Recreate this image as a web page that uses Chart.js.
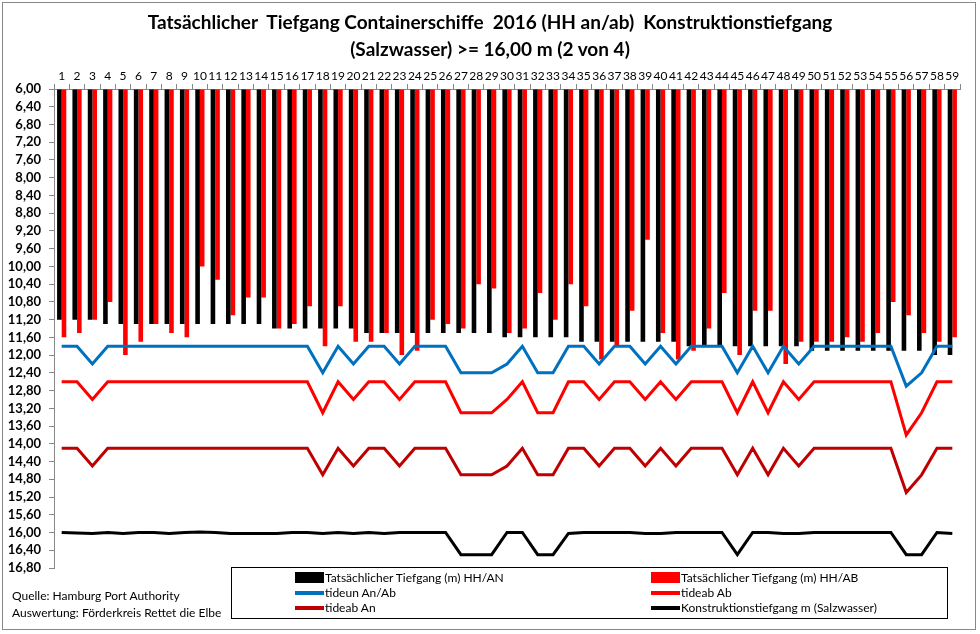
<!DOCTYPE html>
<html>
<head>
<meta charset="utf-8">
<script src="https://cdn.jsdelivr.net/npm/chart.js@4/dist/chart.umd.min.js"></script>
<style>
body { margin: 0; background: #fff; }
#wrap { position: relative; width: 980px; height: 634px; font-family: Lato, "Noto Sans", sans-serif; }
#frame { position: absolute; left: 2px; top: 2px; width: 974px; height: 628px; border: 1px solid #888; box-sizing: border-box; }
#title { position: absolute; left: 0; top: 8px; width: 980px; text-align: center; font-weight: bold; font-size: 19px; line-height: 27px; white-space: pre; }
#legend { position: absolute; left: 231px; top: 567px; width: 717px; height: 52px; border: 1px solid #000; box-sizing: border-box; background: #fff; font-size: 12px; }
.item { position: absolute; height: 15px; line-height: 15px; white-space: pre; }
.sym { position: absolute; left: 0; width: 29px; }
.box { top: 2px; height: 11px; }
.ln { top: 6px; height: 4px; }
.lbl { position: absolute; left: 30px; top: 0; }
#src { position: absolute; left: 12px; top: 587px; font-size: 12px; line-height: 17px; }
canvas { position: absolute; left: 0; top: 0; }
</style>
</head>
<body>
<div id="wrap">
  <canvas id="graphic" width="980" height="634"></canvas>
  <div id="frame"></div>
  <div id="title">Tatsächlicher  Tiefgang Containerschiffe  2016 (HH an/ab)  Konstruktionstiefgang
(Salzwasser) &gt;= 16,00 m (2 von 4)</div>
  <div id="legend"></div>
  <div id="src">Quelle: Hamburg Port Authority<br>Auswertung: Förderkreis Rettet die Elbe</div>
</div>
<script>
var labels = [];
for (var i = 1; i <= 59; i++) labels.push(String(i));

var yTicks = [6.0, 6.4, 6.8, 7.2, 7.6, 8.0, 8.4, 8.8, 9.2, 9.6, 10.0, 10.4, 10.8, 11.2, 11.6, 12.0,
    12.4, 12.8, 13.2, 13.6, 14.0, 14.4, 14.8, 15.2, 15.6, 16.0, 16.4, 16.8];

// Tatsächlicher Tiefgang (m) HH/AN
var tiefgangAn = [11.2, 11.2, 11.2, 11.3, 11.3, 11.3, 11.3, 11.3, 11.3, 11.3,
    11.3, 11.3, 11.3, 11.3, 11.4, 11.4, 11.4, 11.4, 11.4, 11.4,
    11.5, 11.5, 11.5, 11.5, 11.5, 11.5, 11.5, 11.5, 11.5, 11.6,
    11.6, 11.6, 11.6, 11.6, 11.7, 11.7, 11.7, 11.7, 11.7, 11.7,
    11.7, 11.8, 11.8, 11.8, 11.8, 11.8, 11.8, 11.8, 11.8, 11.9,
    11.9, 11.9, 11.9, 11.9, 11.9, 11.9, 11.9, 12.0, 12.0];

// Tatsächlicher Tiefgang (m) HH/AB
var tiefgangAb = [11.6, 11.5, 11.2, 10.8, 12.0, 11.7, 11.3, 11.5, 11.6, 10.0,
    10.3, 11.1, 10.7, 10.7, 11.4, 11.3, 10.9, 11.8, 10.9, 11.7,
    11.7, 11.5, 12.0, 11.9, 11.2, 11.3, 11.4, 10.4, 10.5, 11.5,
    11.4, 10.6, 11.2, 10.4, 10.9, 12.1, 11.8, 11.0, 9.4, 11.5,
    12.1, 11.9, 11.4, 10.6, 12.0, 11.0, 11.0, 12.2, 11.7, 11.7,
    11.7, 11.6, 11.7, 11.5, 10.8, 11.1, 11.5, 11.7, 11.6];

var tideunAnAb = [11.8, 11.8, 12.2, 11.8, 11.8, 11.8, 11.8, 11.8, 11.8, 11.8,
    11.8, 11.8, 11.8, 11.8, 11.8, 11.8, 11.8, 12.4, 11.8, 12.2,
    11.8, 11.8, 12.2, 11.8, 11.8, 11.8, 12.4, 12.4, 12.4, 12.2,
    11.8, 12.4, 12.4, 11.8, 11.8, 12.2, 11.8, 11.8, 12.2, 11.8,
    12.2, 11.8, 11.8, 11.8, 12.4, 11.8, 12.4, 11.8, 12.2, 11.8,
    11.8, 11.8, 11.8, 11.8, 11.8, 12.7, 12.4, 11.8, 11.8];

var tideabAb = [12.6, 12.6, 13.0, 12.6, 12.6, 12.6, 12.6, 12.6, 12.6, 12.6,
    12.6, 12.6, 12.6, 12.6, 12.6, 12.6, 12.6, 13.3, 12.6, 13.0,
    12.6, 12.6, 13.0, 12.6, 12.6, 12.6, 13.3, 13.3, 13.3, 13.0,
    12.6, 13.3, 13.3, 12.6, 12.6, 13.0, 12.6, 12.6, 13.0, 12.6,
    13.0, 12.6, 12.6, 12.6, 13.3, 12.6, 13.3, 12.6, 13.0, 12.6,
    12.6, 12.6, 12.6, 12.6, 12.6, 13.8, 13.3, 12.6, 12.6];

var tideabAn = [14.1, 14.1, 14.5, 14.1, 14.1, 14.1, 14.1, 14.1, 14.1, 14.1,
    14.1, 14.1, 14.1, 14.1, 14.1, 14.1, 14.1, 14.7, 14.1, 14.5,
    14.1, 14.1, 14.5, 14.1, 14.1, 14.1, 14.7, 14.7, 14.7, 14.5,
    14.1, 14.7, 14.7, 14.1, 14.1, 14.5, 14.1, 14.1, 14.5, 14.1,
    14.5, 14.1, 14.1, 14.1, 14.7, 14.1, 14.7, 14.1, 14.5, 14.1,
    14.1, 14.1, 14.1, 14.1, 14.1, 15.1, 14.7, 14.1, 14.1];

var konstruktion = [16.00, 16.01, 16.02, 16.00, 16.02, 16.00, 16.00, 16.02, 16.00, 15.99,
    16.00, 16.02, 16.02, 16.02, 16.02, 16.00, 16.00, 16.02, 16.00, 16.02,
    16.00, 16.02, 16.00, 16.00, 16.00, 16.00, 16.50, 16.50, 16.50, 16.00,
    16.00, 16.50, 16.50, 16.02, 16.00, 16.00, 16.00, 16.00, 16.02, 16.02,
    16.00, 16.00, 16.00, 16.00, 16.50, 16.00, 16.00, 16.02, 16.02, 16.00,
    16.00, 16.00, 16.00, 16.00, 16.00, 16.50, 16.50, 16.00, 16.02];

var yMin = 6.0, yMax = 16.8;

function lineSet(label, data, color) {
    return {
        type: 'line', label: label, data: data,
        borderColor: color, backgroundColor: color,
        borderWidth: 3, pointRadius: 0, tension: 0, order: 0
    };
}

var ctx = document.getElementById('graphic').getContext('2d');

var graphic = new Chart(ctx, {
    type: 'bar',
    data: {
        labels: labels,
        datasets: [
            { label: 'Tatsächlicher Tiefgang (m) HH/AN', data: tiefgangAn, backgroundColor: '#000000',
              base: yMin, categoryPercentage: 0.6, barPercentage: 1.0, order: 1 },
            { label: 'Tatsächlicher Tiefgang (m) HH/AB', data: tiefgangAb, backgroundColor: '#ff0000',
              base: yMin, categoryPercentage: 0.6, barPercentage: 1.0, order: 1 },
            lineSet('tideun An/Ab', tideunAnAb, '#0070c0'),
            lineSet('tideab Ab', tideabAb, '#ff0000'),
            lineSet('tideab An', tideabAn, '#c00000'),
            lineSet('Konstruktionstiefgang m (Salzwasser)', konstruktion, '#000000')
        ]
    },
    options: {
        responsive: false,
        animation: false,
        layout: { padding: { left: 0, top: 57, right: 20, bottom: 66 } },
        plugins: { legend: { display: false }, title: { display: false }, tooltip: { enabled: false } },
        scales: {
            x: {
                position: 'top',
                offset: true,
                grid: { offset: true, drawOnChartArea: false, tickLength: 5, color: '#888888' },
                border: { color: '#888888' },
                ticks: { autoSkip: false, maxRotation: 0, padding: 1, color: '#000', font: { family: 'Lato', size: 12 } },
                afterFit: function (scale) { scale.height = 32; }
            },
            y: {
                reverse: true,
                min: yMin,
                max: yMax,
                grid: { drawOnChartArea: false, tickLength: 5, color: '#888888' },
                border: { color: '#888888' },
                afterBuildTicks: function (scale) {
                    scale.ticks = yTicks.map(function (v) { return { value: v }; });
                },
                ticks: {
                    autoSkip: false, color: '#000', padding: 8,
                    font: { family: 'Lato', size: 13, weight: 'bold' },
                    callback: function (v) { return Number(v).toFixed(2).replace('.', ','); }
                },
                afterFit: function (scale) { scale.width = 54; }
            }
        }
    }
});

// legend box
var legendItems = [
    { text: 'Tatsächlicher Tiefgang (m) HH/AN', color: '#000000', kind: 'box', x: 63, y: 2 },
    { text: 'Tatsächlicher Tiefgang (m) HH/AB', color: '#ff0000', kind: 'box', x: 419, y: 2 },
    { text: 'tideun An/Ab', color: '#0070c0', kind: 'ln', x: 63, y: 17 },
    { text: 'tideab Ab', color: '#ff0000', kind: 'ln', x: 419, y: 17 },
    { text: 'tideab An', color: '#c00000', kind: 'ln', x: 63, y: 32 },
    { text: 'Konstruktionstiefgang m (Salzwasser)', color: '#000000', kind: 'ln', x: 419, y: 32 }
];
var lg = document.getElementById('legend');
legendItems.forEach(function (it) {
    var d = document.createElement('div');
    d.className = 'item';
    d.style.left = it.x + 'px';
    d.style.top = it.y + 'px';
    d.innerHTML = '<div class="sym ' + it.kind + '" style="background:' + it.color + '"></div><span class="lbl"></span>';
    d.querySelector('.lbl').textContent = it.text;
    lg.appendChild(d);
});
</script>
</body>
</html>
